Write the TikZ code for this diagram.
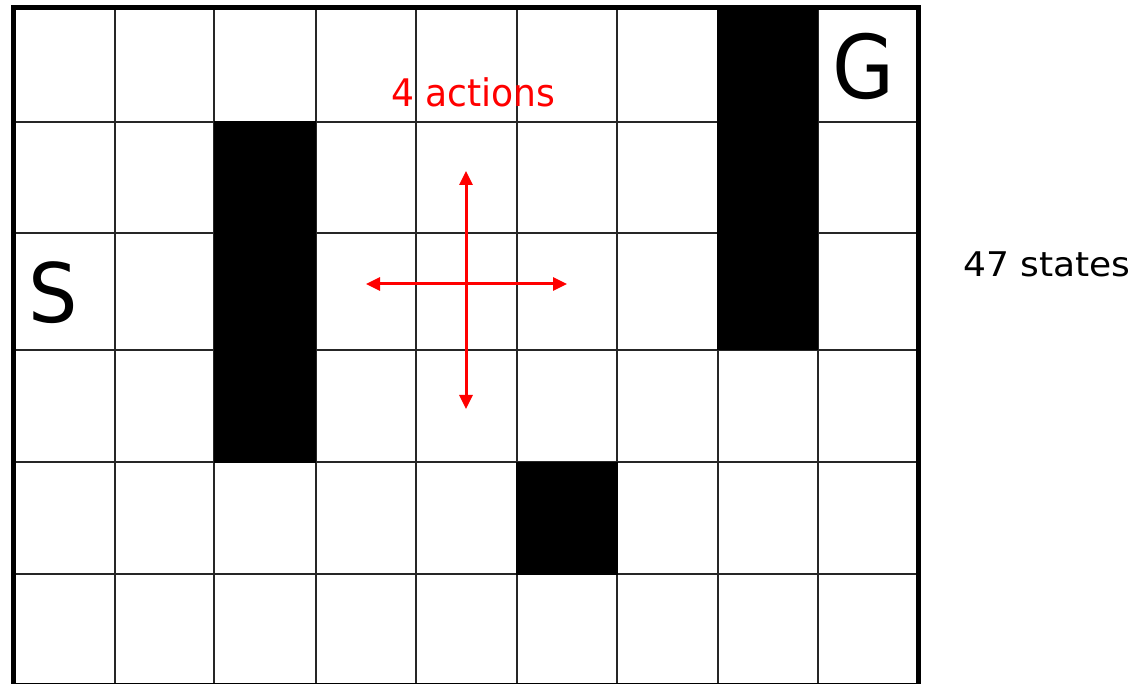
\documentclass[tikz,border=0pt]{standalone}
\usepackage{fontspec}
\usepackage{graphicx}
\setmainfont{DejaVu Sans}
\usetikzlibrary{arrows.meta}
\tikzset{
  gridline/.style={line width=2pt, black!85},
  wall/.style={fill=black, draw=none},
  frame/.style={line width=5.5pt, black},
  act/.style={red, line width=3pt, {Triangle[width=13pt,length=14pt]}-{Triangle[width=13pt,length=14pt]}},
  lbl/.style={inner sep=0pt, anchor=base west}
}
\begin{document}
\begin{tikzpicture}[x=1pt,y=-1pt]
\useasboundingbox (0,0) rectangle (1138,684);
\fill[white] (0,0) rectangle (1138,684);
% grid lines
\foreach \x in {114.5,214,315.5,416,516.5,617,717.5,817.5}
  \draw[gridline] (\x,7.5) -- (\x,685.5);
\foreach \y in {122,233.5,350,462,574}
  \draw[gridline] (13.5,\y) -- (918.5,\y);
% walls
\fill[wall] (213.5,121.5) rectangle (316,462.5);
\fill[wall] (717,7.5) rectangle (818,350.5);
\fill[wall] (516,461.5) rectangle (617.5,574.5);
% outer frame
\draw[frame] (13.5,7.5) rectangle (918.5,685.5);
% labels
\node[lbl, font=\fontsize{82}{82}\selectfont] (S) at (28,322.5) {\scalebox{0.95}[1]{S}};
\node[lbl, font=\fontsize{88}{88}\selectfont] (G) at (832,98.5) {\scalebox{0.91}[1]{G}};
\node[lbl, red, font=\fontsize{38}{38}\selectfont] (act) at (391,106.7) {\scalebox{0.95}[1]{4 actions}};
\node[lbl, font=\fontsize{34}{34}\selectfont] (states) at (963,276.7) {\scalebox{1.06}[1]{47 states}};
% actions cross
\coordinate (up) at (466,171);
\coordinate (down) at (466,409);
\coordinate (left) at (366,284);
\coordinate (right) at (567,284);
\draw[act] (down) -- (up);
\draw[act] (left) -- (right);
\end{tikzpicture}
\end{document}
